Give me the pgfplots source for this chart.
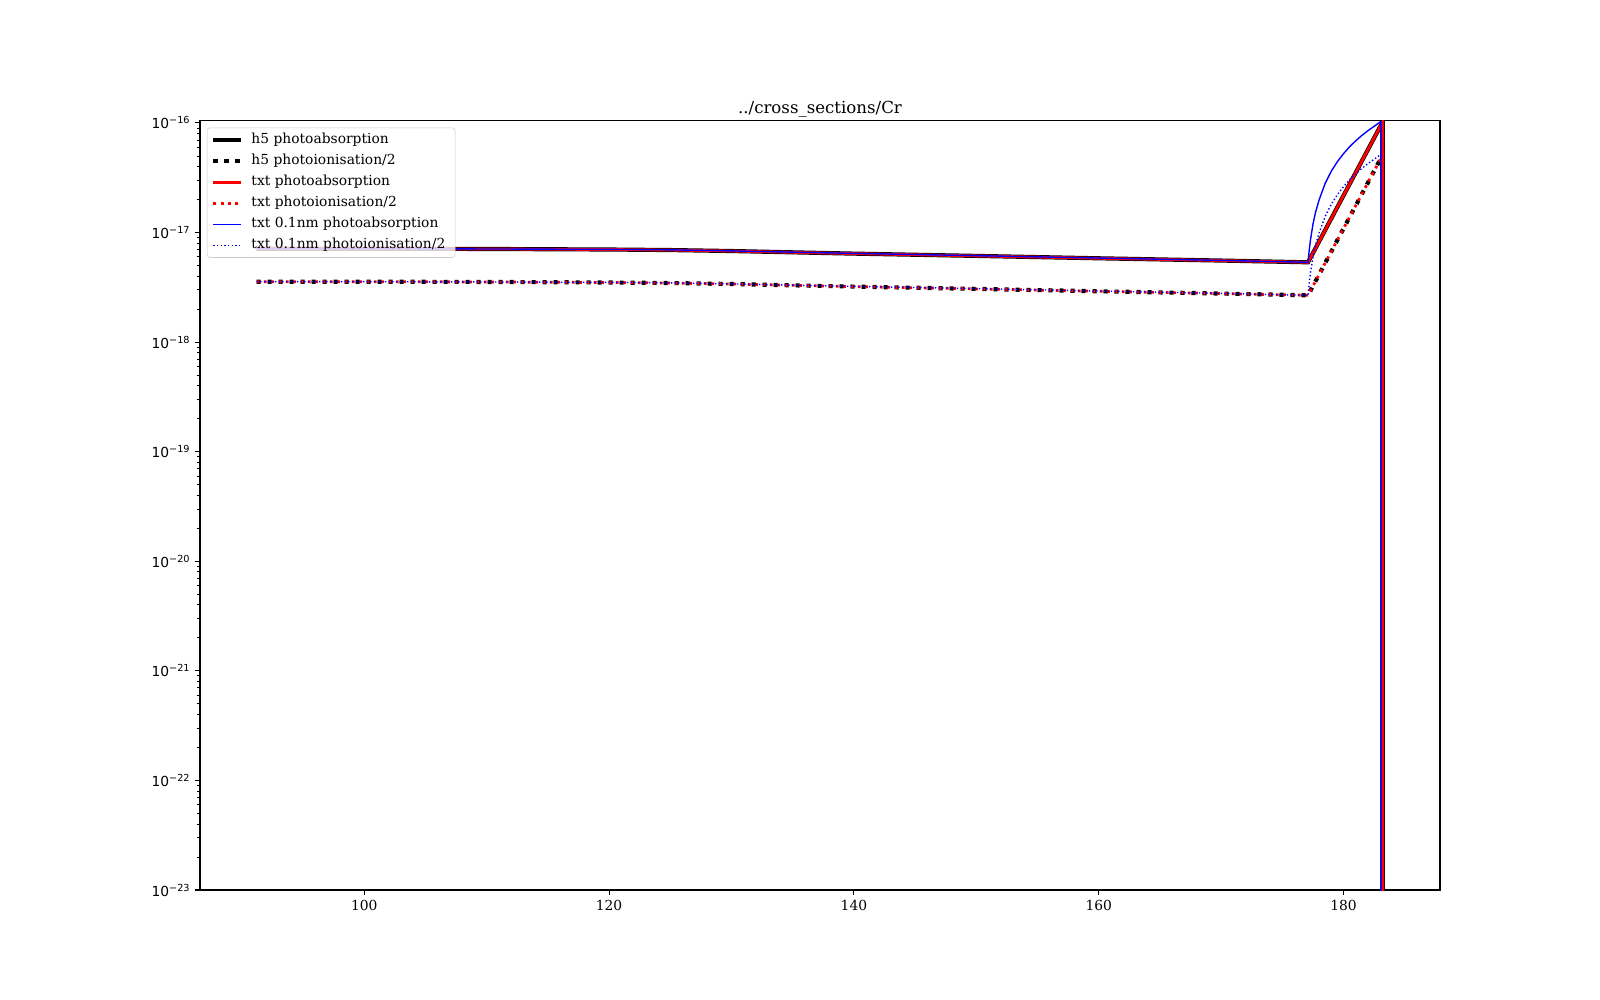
\documentclass[border=0pt]{standalone}
\usepackage{fontspec}
\setmainfont{DejaVu Serif}
\newfontfamily\sansf{DejaVu Sans}
\usepackage{pgfplots}
\usepackage{pgfplotstable}
\pgfplotsset{compat=1.18}

\pgfplotstableread{
x y
91.2 7.12e-18
100 7.12e-18
110 7.08e-18
120 7.00e-18
125 6.92e-18
130 6.78e-18
140 6.42e-18
150 6.12e-18
160 5.82e-18
170 5.55e-18
177.1 5.35e-18
183.21 1.03e-16
183.21 1e-30
}\absdata

\pgfplotstableread{
x y
91.2 3.56e-18
100 3.56e-18
110 3.54e-18
120 3.50e-18
125 3.46e-18
130 3.39e-18
140 3.21e-18
150 3.06e-18
160 2.91e-18
170 2.775e-18
177.1 2.675e-18
183.21 5.15e-17
183.21 1e-30
}\iondata

\pgfplotstableread{
x y
91.2 7.12e-18
100 7.12e-18
110 7.08e-18
120 7.02e-18
125 6.95e-18
130 6.80e-18
140 6.45e-18
150 6.15e-18
160 5.85e-18
170 5.57e-18
177.1 5.35e-18
177.2 6.98e-18
177.3 8.60e-18
177.5 1.186e-17
177.7 1.512e-17
178.0 1.98e-17
178.5 2.81e-17
179.0 3.63e-17
179.5 4.44e-17
180.0 5.25e-17
180.5 6.07e-17
181.0 6.88e-17
181.5 7.70e-17
182.0 8.51e-17
182.5 9.32e-17
183.0 1.022e-16
183.05 1.03e-16
183.05 1e-30
}\absfine

\pgfplotstableread{
x y
91.2 3.56e-18
100 3.56e-18
110 3.54e-18
120 3.51e-18
125 3.475e-18
130 3.40e-18
140 3.225e-18
150 3.075e-18
160 2.925e-18
170 2.785e-18
177.1 2.675e-18
177.2 3.49e-18
177.3 4.30e-18
177.5 5.93e-18
177.7 7.56e-18
178.0 9.90e-18
178.5 1.405e-17
179.0 1.815e-17
179.5 2.22e-17
180.0 2.625e-17
180.5 3.035e-17
181.0 3.44e-17
181.5 3.85e-17
182.0 4.255e-17
182.5 4.66e-17
183.0 5.11e-17
183.05 5.15e-17
183.05 1e-30
}\ionfine

\begin{document}
\fontsize{10}{12}\selectfont
\begin{tikzpicture}
\path[use as bounding box] (-2in,-1.1in) rectangle (14in,8.9in);
\begin{axis}[
  at={(0,0)}, anchor=south west, scale only axis,
  width=12.4in, height=7.694in,
  ymode=log, log basis y=10,
  xmin=86.58, xmax=187.88, ymin=1e-23, ymax=1.05e-16,
  xtick={100,120,140,160,180},
  /pgf/number format/assume math mode=true,
  xticklabel style={font=\fontsize{10}{12}\selectfont},
  yticklabel={\sansf\pgfmathparse{int(round(-\tick))}10\textsuperscript{−\pgfmathresult}},
  yticklabel style={font=\fontsize{10}{12}\selectfont},
  tick align=outside, tick pos=left,
  major tick length=3.5pt, minor tick length=2pt,
  every tick/.style={black, line width=0.8pt},
  every minor tick/.style={black, line width=0.6pt},
  axis line style={line width=0.8pt},
  title={../cross\_sections/Cr},
  title style={font=\fontsize{12}{14}\selectfont, yshift=-7pt},
  legend image code/.code={\draw[#1] (0pt,0pt) -- (20pt,0pt); \path (22pt,0pt);},
  legend style={at={(0,1)}, anchor=north west, xshift=5pt, yshift=-5pt,
    draw=black!20, rounded corners=2pt, fill=white, fill opacity=0.8,
    text opacity=1, draw opacity=1, font=\fontsize{10}{12}\selectfont,
    cells={anchor=west}, inner xsep=3pt, inner ysep=2pt, row sep=1.5pt,
    nodes={inner ysep=2pt, inner xsep=4pt, text height=7.5pt, text depth=2.2pt}},
]
\addplot[black, line width=3pt] table {\absdata};
\addlegendentry{h5 photoabsorption}
\addplot[black, line width=3pt, dash pattern=on 3pt off 4.95pt] table {\iondata};
\addlegendentry{h5 photoionisation/2}
\addplot[red, line width=2pt] table {\absdata};
\addlegendentry{txt photoabsorption}
\addplot[red, line width=2pt, dash pattern=on 2pt off 3.3pt] table {\iondata};
\addlegendentry{txt photoionisation/2}
\addplot[blue, line width=1pt] table {\absfine};
\addlegendentry{txt 0.1nm photoabsorption}
\addplot[blue, line width=1pt, dash pattern=on 1pt off 1.65pt] table {\ionfine};
\addlegendentry{txt 0.1nm photoionisation/2}
\end{axis}
\end{tikzpicture}
\end{document}
